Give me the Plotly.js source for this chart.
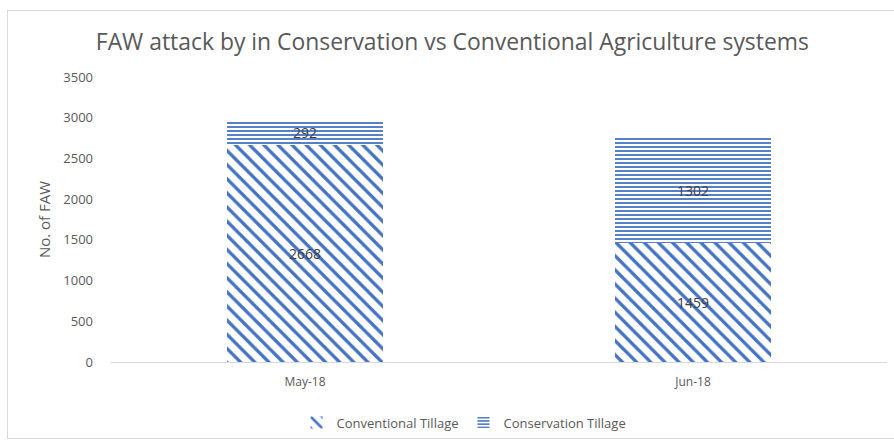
<!DOCTYPE html>
<html>
<head>
<meta charset="utf-8">
<script src="https://cdn.plot.ly/plotly-3.0.1.min.js"></script>
<style>
html,body{margin:0;padding:0;background:#fff;}
#frame{position:absolute;left:7px;top:10px;width:900px;height:429px;border:1px solid #d9d9d9;box-sizing:border-box;}
#chart{position:absolute;left:0;top:0;width:894px;height:445px;}
</style>
</head>
<body>
<div id="frame"></div>
<div id="chart"></div>
<script>
const categories = ["May-18", "Jun-18"];
const conventionalTillage = [2668, 1459];
const conservationTillage = [292, 1302];
const yTicks = [0, 500, 1000, 1500, 2000, 2500, 3000, 3500];

const blue = "#4472C4";
const traces = [
  {
    type: "bar",
    name: "Conventional Tillage",
    x: categories,
    y: conventionalTillage,
    text: conventionalTillage.map(String),
    textposition: "inside",
    insidetextanchor: "middle",
    constraintext: "none",
    textfont: {family: "Open Sans, sans-serif", size: 14, color: "#404040"},
    marker: {
      color: "#ffffff",
      line: {width: 0},
      pattern: {shape: "\\", fgcolor: blue, bgcolor: "#ffffff", size: 10, solidity: 0.33}
    },
    hoverinfo: "skip"
  },
  {
    type: "bar",
    name: "Conservation Tillage",
    x: categories,
    y: conservationTillage,
    text: conservationTillage.map(String),
    textposition: "inside",
    insidetextanchor: "middle",
    constraintext: "none",
    textfont: {family: "Open Sans, sans-serif", size: 14, color: "#404040"},
    marker: {
      color: "#ffffff",
      line: {width: 0},
      pattern: {shape: "-", fgcolor: blue, bgcolor: "#ffffff", size: 4, solidity: 0.45}
    },
    hoverinfo: "skip"
  }
];

const layout = {
  width: 894,
  height: 445,
  barmode: "stack",
  bargap: 0.6,
  paper_bgcolor: "rgba(0,0,0,0)",
  plot_bgcolor: "rgba(0,0,0,0)",
  margin: {l: 111, r: 7, t: 77, b: 80},
  font: {family: "Open Sans, sans-serif", color: "#595959"},
  title: {
    text: "FAW attack by in Conservation vs Conventional Agriculture systems",
    font: {family: "Open Sans, sans-serif", size: 22.9, color: "#595959"},
    x: 0.506, xanchor: "center", y: 0.905, yanchor: "middle"
  },
  xaxis: {
    type: "category",
    showgrid: false,
    showline: true,
    linecolor: "#d9d9d9",
    linewidth: 1,
    ticks: "",
    ticklabelstandoff: 9,
    tickfont: {size: 12, color: "#595959"},
    fixedrange: true
  },
  yaxis: {
    range: [0, 3500],
    tickvals: yTicks,
    showgrid: false,
    zeroline: false,
    showline: false,
    ticks: "",
    ticklen: 0,
    ticklabelstandoff: 17,
    tickfont: {size: 13, color: "#595959"},
    title: {text: "No. of FAW", font: {size: 15, color: "#595959"}, standoff: 9},
    fixedrange: true
  },
  legend: {
    orientation: "h",
    x: 0.455, xanchor: "center",
    y: -0.16, yanchor: "top",
    font: {size: 13, color: "#595959"},
    traceorder: "normal"
  },
  showlegend: true
};

Plotly.newPlot("chart", traces, layout, {displayModeBar: false, staticPlot: true});
</script>
</body>
</html>
